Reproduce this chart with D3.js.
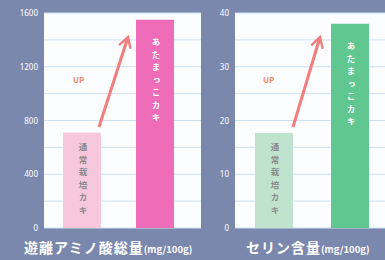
<!DOCTYPE html>
<html>
<head>
<meta charset="utf-8">
<script src="https://cdn.jsdelivr.net/npm/d3@7"></script>
<style>
  body { margin: 0; background: #7b88ae; }
  svg { display: block; font-family: "Noto Sans CJK JP", "Noto Sans", sans-serif; }
</style>
</head>
<body>
<script>
// two small charts: amino acid total and serine content
var categories = ["通常栽培カキ", "あたまっこカキ"];
var aminoValues = [710, 1550];
var serineValues = [17.7, 38];
var aminoTicks = [0, 400, 800, 1200, 1600];
var serineTicks = [0, 10, 20, 30, 40];
var titles = ["遊離アミノ酸総量", "セリン含量"];
var unit = "(mg/100g)";

var W = 385, H = 260;
var svg = d3.select("body").append("svg").attr("width", W).attr("height", H);

var defs = svg.append("defs");
defs.append("marker")
    .attr("id", "head")
    .attr("viewBox", "0 0 10 10")
    .attr("refX", 8).attr("refY", 5)
    .attr("markerWidth", 5).attr("markerHeight", 5)
    .attr("orient", "auto")
    .append("path")
    .attr("d", "M1,1 L8,5 L1,9")
    .attr("fill", "none")
    .attr("stroke", "#f27d7d")
    .attr("stroke-width", 1.6);

function panel(opt) {
    var y = d3.scaleLinear().domain([0, opt.max]).range([228, 13]);
    var g = svg.append("g");

    g.append("rect")
        .attr("x", opt.left).attr("y", 13)
        .attr("width", opt.right - opt.left).attr("height", 215)
        .attr("fill", "#fcfdff");

    // grid every half tick
    var grid = d3.range(0, opt.max + 0.001, opt.max / 8);
    g.selectAll(".grid").data(grid).enter().append("line")
        .attr("x1", opt.left).attr("x2", opt.right)
        .attr("y1", function(d) { return y(d); })
        .attr("y2", function(d) { return y(d); })
        .attr("stroke", "#cfe0ee").attr("stroke-width", 1);

    var axis = d3.axisLeft(y).tickValues(opt.ticks).tickFormat(d3.format("d")).tickSize(0).tickPadding(0);
    var ax = g.append("g")
        .attr("transform", "translate(" + (opt.left - 6) + ",0)")
        .call(axis);
    ax.select(".domain").remove();
    ax.selectAll("text").attr("fill", "#ffffff").style("font-size", "8px").style("font-family", "Noto Sans");

    var bw = 38;
    g.selectAll(".bar").data(opt.values).enter().append("rect")
        .attr("x", function(d, i) { return opt.barX[i]; })
        .attr("width", bw)
        .attr("y", function(d) { return y(d); })
        .attr("height", function(d) { return y(0) - y(d); })
        .attr("fill", function(d, i) { return opt.colors[i]; });

    // vertical labels inside bars
    g.selectAll(".blabel").data(opt.values).enter().append("text")
        .attr("x", function(d, i) { return opt.barX[i] + bw / 2 + 1; })
        .attr("y", function(d, i) { return y(d) + (i == 0 ? 10 : 18); })
        .style("writing-mode", "vertical-rl")
        .style("letter-spacing", "4px")
        .attr("fill", function(d, i) { return i == 0 ? "#8c8c8c" : "#ffffff"; })
        .style("font-size", "8.5px")
        .style("font-weight", "bold")
        .text(function(d, i) { return categories[i]; });

    // arrow and UP
    g.append("line")
        .attr("x1", opt.arrow[0]).attr("y1", 127)
        .attr("x2", opt.arrow[1]).attr("y2", 37)
        .attr("stroke", "#f27d7d").attr("stroke-width", 3)
        .attr("marker-end", "url(#head)");
    g.append("text")
        .attr("x", opt.up).attr("y", 83)
        .attr("fill", "#f28a5c")
        .style("font-size", "8px").style("font-weight", "bold")
        .text("UP");

    var t = g.append("text")
        .attr("x", opt.titleX).attr("y", 253)
        .attr("fill", "#ffffff")
        .style("font-weight", "bold");
    t.append("tspan").style("font-size", "14px").style("letter-spacing", "1px").text(opt.title);
    t.append("tspan").style("font-size", "9.5px").text(unit);
}

panel({ left: 44, right: 201, max: 1600, ticks: aminoTicks, values: aminoValues,
        barX: [63, 136], colors: ["#f7c8dc", "#ef6cb9"], arrow: [99, 128], up: 73,
        title: titles[0], titleX: 24 });
panel({ left: 235, right: 385, max: 40, ticks: serineTicks, values: serineValues,
        barX: [255, 331], colors: ["#bfe3cc", "#5fc78f"], arrow: [293, 320], up: 263,
        title: titles[1], titleX: 246 });
</script>
</body>
</html>
